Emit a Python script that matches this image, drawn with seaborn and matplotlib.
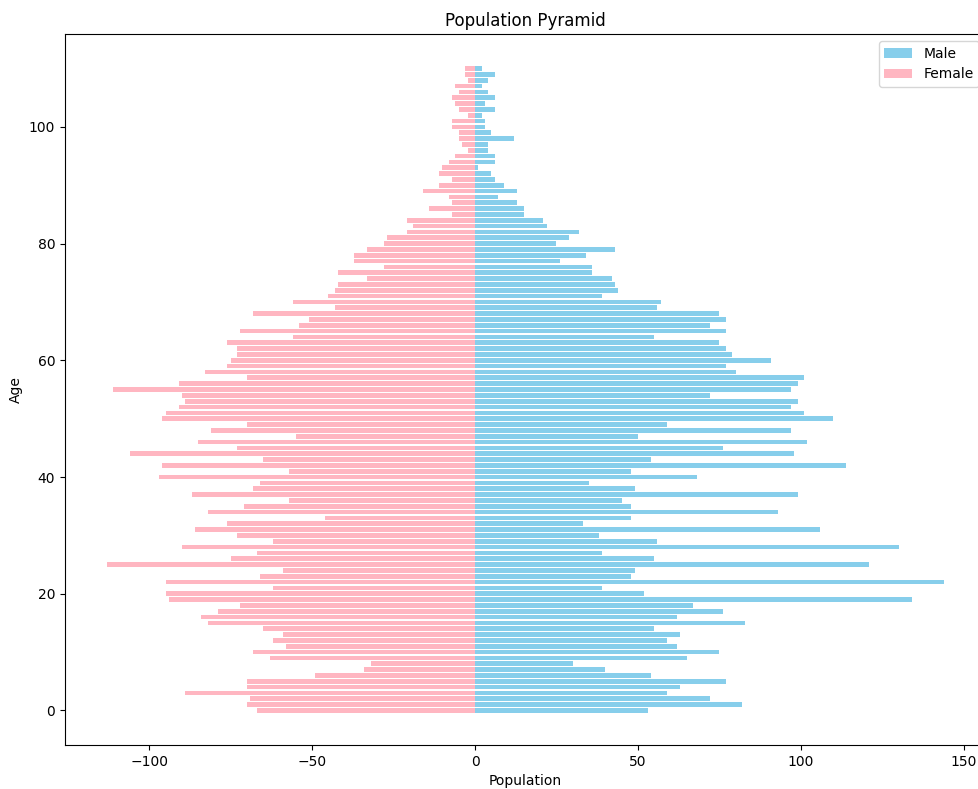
import numpy as np
import pandas as pd
import matplotlib
matplotlib.use("Agg")
import matplotlib.pyplot as plt
import seaborn as sns

ages = list(range(0, 111))

# Male population by age 0..110
male = [53, 82, 72, 59, 63, 77, 54, 40, 30, 65,
        75, 62, 59, 63, 55, 83, 62, 76, 67, 134,
        52, 39, 144, 48, 49, 121, 55, 39, 130, 56,
        38, 106, 33, 48, 93, 48, 45, 99, 49, 35,
        68, 48, 114, 54, 98, 76, 102, 50, 97, 59,
        110, 101, 97, 99, 72, 97, 99, 101, 80, 77,
        91, 79, 77, 75, 55, 77, 72, 77, 75, 56,
        57, 39, 44, 43, 42, 36, 36, 26, 34, 43,
        25, 29, 32, 22, 21, 15, 15, 13, 7, 13,
        9, 6, 5, 1, 6, 6, 4, 4, 12, 5,
        3, 3, 2, 6, 3, 6, 4, 2, 4, 6,
        2]

# Female population by age 0..110
female = [67, 70, 69, 89, 70, 70, 49, 34, 32, 63,
          68, 58, 62, 59, 65, 82, 84, 79, 72, 94,
          95, 62, 95, 66, 59, 113, 75, 67, 90, 62,
          73, 86, 76, 46, 82, 71, 57, 87, 68, 66,
          97, 57, 96, 65, 106, 73, 85, 55, 81, 70,
          96, 95, 91, 89, 90, 111, 91, 70, 83, 76,
          75, 73, 73, 76, 56, 72, 54, 51, 68, 43,
          56, 45, 43, 42, 33, 42, 28, 37, 37, 33,
          28, 27, 21, 19, 21, 7, 14, 7, 8, 16,
          11, 7, 11, 10, 8, 6, 2, 4, 5, 5,
          7, 7, 2, 5, 6, 7, 5, 6, 2, 3,
          3]

series_labels = ["Male", "Female"]
series_colors = ["skyblue", "lightpink"]

fig = plt.figure(figsize=(9.79, 7.89), dpi=100)
ax = fig.add_axes([65 / 979, 1 - 745 / 789, (986 - 65) / 979, (745 - 34) / 789])

sns.barplot(x=male, y=ages, orient="h", native_scale=True, color=series_colors[0],
            saturation=1, errorbar=None, label=series_labels[0], ax=ax)
sns.barplot(x=[-v for v in female], y=ages, orient="h", native_scale=True,
            color=series_colors[1], saturation=1, errorbar=None,
            label=series_labels[1], ax=ax)

ax.set_xlim(-125.85, 156.85)
ax.set_ylim(-5.94, 115.94)
ax.set_xticks([-100, -50, 0, 50, 100, 150])
ax.set_yticks([0, 20, 40, 60, 80, 100])
ax.set_title("Population Pyramid", fontsize=12)
ax.set_xlabel("Population", fontsize=10)
ax.set_ylabel("Age", fontsize=10)
ax.legend(loc="upper right", fontsize=10)

fig.savefig("out.png", dpi=100)
